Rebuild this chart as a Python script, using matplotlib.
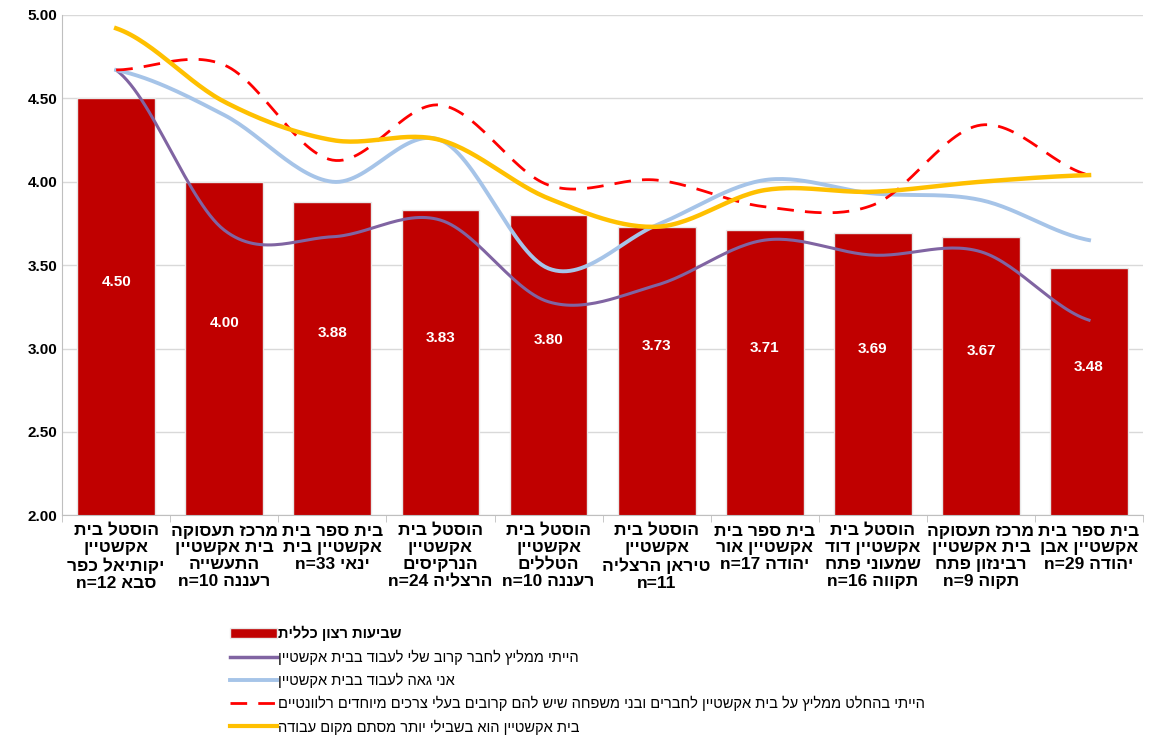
import matplotlib
matplotlib.use("Agg")
import matplotlib.pyplot as plt
import numpy as np
from matplotlib.lines import Line2D
from matplotlib.patches import Patch

plt.rcParams['font.family'] = ['Liberation Sans Narrow', 'Liberation Sans', 'DejaVu Sans']

labels = [
    "הוסטל בית\nאקשטיין\nיקותיאל כפר\nסבא n=12",
    "מרכז תעסוקה\nבית אקשטיין\nהתעשייה\nרעננה n=10",
    "בית ספר בית\nאקשטיין בית\nינאי n=33",
    "הוסטל בית\nאקשטיין\nהנרקיסים\nהרצליה n=24",
    "הוסטל בית\nאקשטיין\nהטללים\nרעננה n=10",
    "הוסטל בית\nאקשטיין\nטיראן הרצליה\nn=11",
    "בית ספר בית\nאקשטיין אור\nיהודה n=17",
    "הוסטל בית\nאקשטיין דוד\nשמעוני פתח\nתקווה n=16",
    "מרכז תעסוקה\nבית אקשטיין\nרבינזון פתח\nתקוה n=9",
    "בית ספר בית\nאקשטיין אבן\nיהודה n=29",
]
overall = [4.50, 4.00, 3.88, 3.83, 3.80, 3.73, 3.71, 3.69, 3.67, 3.48]
recommend_friend = [4.67, 3.71, 3.67, 3.77, 3.28, 3.38, 3.65, 3.56, 3.58, 3.17]
proud = [4.67, 4.40, 4.00, 4.25, 3.48, 3.74, 4.01, 3.93, 3.89, 3.65]
recommend_family = [4.67, 4.70, 4.13, 4.46, 3.98, 4.01, 3.85, 3.86, 4.34, 4.04]
more_than_work = [4.92, 4.48, 4.25, 4.25, 3.90, 3.73, 3.95, 3.94, 4.00, 4.04]

series_names = [
    "שביעות רצון כללית",
    "הייתי ממליץ לחבר קרוב שלי לעבוד בבית אקשטיין",
    "אני גאה לעבוד בבית אקשטיין",
    "הייתי בהחלט ממליץ על בית אקשטיין לחברים ובני משפחה שיש להם קרובים בעלי צרכים מיוחדים רלוונטיים",
    "בית אקשטיין הוא בשבילי יותר מסתם מקום עבודה",
]


def is_heb(w):
    return any('\u0590' <= c <= '\u05ff' for c in w)


def vis(s):
    out = []
    for line in s.split("\n"):
        words = line.split(" ")
        out.append(" ".join(w[::-1] if is_heb(w) else w for w in reversed(words)))
    return "\n".join(out)


def smooth(y, n=30):
    # Catmull-Rom through the points, like Excel's smoothed line
    p = np.concatenate([[y[0]], y, [y[-1]]])
    xs, ys = [], []
    for i in range(1, len(p) - 2):
        t = np.linspace(0, 1, n, endpoint=False)
        p0, p1, p2, p3 = p[i - 1], p[i], p[i + 1], p[i + 2]
        v = 0.5 * (2 * p1 + (-p0 + p2) * t + (2 * p0 - 5 * p1 + 4 * p2 - p3) * t ** 2
                   + (-p0 + 3 * p1 - 3 * p2 + p3) * t ** 3)
        xs.append(i - 1 + t)
        ys.append(v)
    xs.append([len(y) - 1])
    ys.append([y[-1]])
    return np.concatenate(xs), np.concatenate(ys)


fig = plt.figure(figsize=(11.5, 7.5), dpi=100)
ax = fig.add_axes([0.054, 0.313, 0.94, 0.667])
x = np.arange(len(overall))

ax.bar(x, overall, width=0.72, color="#C00000", edgecolor="#E8E8E8", linewidth=1, zorder=2)
for xi, v in zip(x, overall):
    ax.text(xi, (v + 2) / 2 + 0.15, f"{v:.2f}", ha="center", va="center",
            color="white", fontsize=11, fontweight="bold", zorder=3)

ax.plot(*smooth(recommend_friend), color="#8064A2", lw=2.2, zorder=4)
ax.plot(*smooth(proud), color="#A6C4E8", lw=2.8, zorder=4)
ax.plot(*smooth(recommend_family), color="#FF0000", lw=2, ls=(0, (6, 4)), zorder=4)
ax.plot(*smooth(more_than_work), color="#FFC000", lw=3.2, zorder=4)

ax.set_xlim(-0.5, 9.5)
ax.set_ylim(2, 5)
ax.set_yticks(np.arange(2, 5.01, 0.5))
ax.set_yticklabels([f"{v:.2f}" for v in np.arange(2, 5.01, 0.5)], fontsize=11, fontweight="bold")
ax.yaxis.grid(True, color="#D9D9D9", lw=1, zorder=0)
ax.set_axisbelow(True)
ax.set_xticks(x)
ax.set_xticklabels([vis(l) for l in labels], fontsize=12.5, fontweight="bold",
                   va="top", linespacing=1.15)
ax.set_xticks(np.arange(-0.5, 9.6, 1), minor=True)
ax.tick_params(axis="x", which="major", length=0, pad=6)
ax.tick_params(axis="x", which="minor", length=5, color="#BFBFBF")
ax.tick_params(axis="y", length=0)
for s in ["top", "right"]:
    ax.spines[s].set_visible(False)
ax.spines["left"].set_color("#BFBFBF")
ax.spines["bottom"].set_color("#BFBFBF")

handles = [
    Patch(facecolor="#C00000", edgecolor="#E8E8E8"),
    Line2D([], [], color="#8064A2", lw=2.5),
    Line2D([], [], color="#A6C4E8", lw=2.8),
    Line2D([], [], color="#FF0000", lw=2, ls=(0, (6, 4))),
    Line2D([], [], color="#FFC000", lw=3),
]
leg = fig.legend(handles, [vis(n) for n in series_names], loc="upper left",
                 bbox_to_anchor=(0.2, 0.165), frameon=False, fontsize=10.5,
                 handlelength=3.2, handletextpad=0.1, labelspacing=0.55,
                 borderaxespad=0, borderpad=0)
leg.get_texts()[0].set_fontweight("bold")

fig.savefig("out.png", dpi=100)
